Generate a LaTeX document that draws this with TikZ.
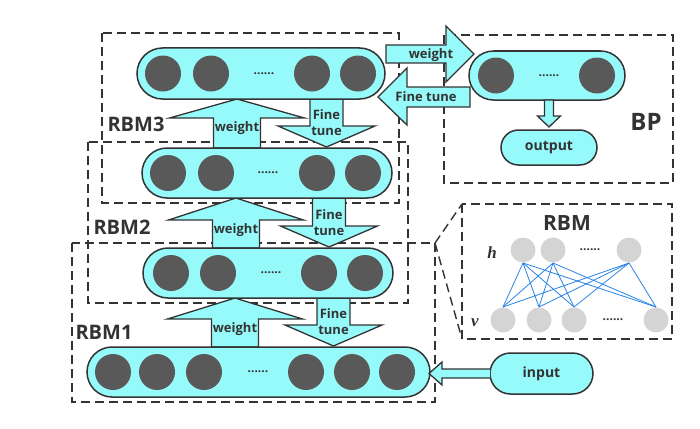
\documentclass[tikz,border=0pt]{standalone}
\usepackage{fontspec}
\setmainfont{Open Sans}
\newfontfamily\hvfont{Liberation Serif}
\usetikzlibrary{shapes.misc}
\definecolor{cyanfill}{RGB}{150,250,250}
\definecolor{darkline}{RGB}{51,51,51}
\definecolor{unitgray}{RGB}{89,89,89}
\definecolor{lightunit}{RGB}{212,212,212}
\definecolor{edgeblue}{RGB}{40,130,230}
% up arrow: x, tip y, head base y, foot y
\newcommand\wup[4]{%
\draw[blk] (#1,#2) -- ({#1+67.5},#3) -- ({#1+23.5},#3) -- ({#1+23.5},#4) -- ({#1-23.5},#4) -- ({#1-23.5},#3) -- ({#1-67.5},#3) -- cycle;
\node[lbl] at (#1,{#3+10}) {weight};}
% down arrow: x, top y, head base y, tip y
\newcommand\fdown[4]{%
\draw[blk] ({#1-16.5},#2) -- ({#1+16.5},#2) -- ({#1+16.5},#3) -- ({#1+48.5},#3) -- (#1,#4) -- ({#1-48.5},#3) -- ({#1-16.5},#3) -- cycle;
\node[lbl,align=center] at (#1,{#3-3.5}) {Fine\\tune};}

\begin{document}
\begin{tikzpicture}[x=1pt,y=-1pt,
  pill/.style={rounded rectangle,draw=darkline,line width=1.5pt,fill=cyanfill,inner sep=0pt},
  blk/.style={draw=darkline,line width=1.3pt,fill=cyanfill,line join=miter},
  lbl/.style={font=\bfseries\fontsize{13}{16.5}\selectfont,text=darkline,inner sep=0pt},
  dots/.style={font=\bfseries\fontsize{12}{12}\selectfont,text=darkline},
  grp/.style={draw=darkline,line width=1.4pt,dash pattern=on 9pt off 5pt},
  tag/.style={font=\bfseries\fontsize{20}{22}\selectfont,text=darkline}]
\useasboundingbox (0,0) rectangle (700,428);

% dashed groups
\draw[grp] (102,33) rectangle (399,203);
\draw[grp] (88,142) rectangle (408,303);
\draw[grp] (72,243) rectangle (435,402);
\draw[grp] (444,35) rectangle (673,183);
\draw[grp] (462,204) rectangle (672,339);
\draw[grp] (435,243) -- (462,204) (435,243) -- (462,339);
\node[tag] at (136,124) {RBM3};
\node[tag] at (122,227) {RBM2};
\node[tag] at (104,332) {RBM1};
\node[tag,font=\bfseries\fontsize{24}{26}\selectfont] at (646,122) {BP};

% arrows between layers
\wup{237}{99}{118}{148}
\fdown{326.5}{99}{126}{147}
\wup{236}{198}{220}{248}
\fdown{329}{198}{226}{247}
\wup{235}{298}{319}{347}
\fdown{333.5}{298}{325}{346}

% layers
\node[pill,minimum width=248pt,minimum height=51pt] (L3) at (261,73.5) {};
\node[pill,minimum width=250pt,minimum height=50pt] (L2) at (267,173) {};
\node[pill,minimum width=250pt,minimum height=50pt] (L1) at (268,273) {};
\node[pill,minimum width=343pt,minimum height=50pt] (L0) at (258.5,372) {};
\node[pill,minimum width=156pt,minimum height=49pt] (bp) at (547,75.5) {};
\node[pill,minimum width=96pt,minimum height=35pt,lbl,font=\bfseries\fontsize{14}{16}\selectfont] (out) at (549,147.5) {output};
\node[pill,minimum width=103pt,minimum height=41pt,lbl,font=\bfseries\fontsize{14}{16}\selectfont] (inp) at (541.5,373.5) {input};
\foreach \x in {163,211,312,358} \fill[unitgray] (\x,73.5) circle (18pt);
\foreach \x in {168,216,317,363} \fill[unitgray] (\x,173) circle (18pt);
\foreach \x in {171,218,319,365} \fill[unitgray] (\x,273) circle (18pt);
\foreach \x in {113,157,204,306,352,397} \fill[unitgray] (\x,372) circle (18pt);
\foreach \x in {496,597} \fill[unitgray] (\x,75.5) circle (18pt);
\node[dots] at (264,73.5) {......};
\node[dots] at (268,173) {......};
\node[dots] at (271,273) {......};
\node[dots] at (258,372) {......};
\node[dots] at (549,75.5) {......};

% layer 3 <-> BP
\draw[blk] (386,45) -- (446,45) -- (446,26) -- (474,54) -- (446,82) -- (446,63) -- (386,63) -- cycle;
\node[lbl] at (431,55) {weight};
\draw[blk] (378,97) -- (407,68) -- (407,87) -- (470,87) -- (470,107) -- (407,107) -- (407,125) -- cycle;
\node[lbl] at (426,97) {Fine tune};
\draw[blk] (544.5,100) -- (553.5,100) -- (553.5,116) -- (560.5,116) -- (549,127) -- (537.5,116) -- (544.5,116) -- cycle;
\draw[blk] (490,369) -- (442,369) -- (442,362) -- (429,373.5) -- (442,385) -- (442,378) -- (490,378);

% RBM inset
\node[tag,font=\bfseries\fontsize{21}{24}\selectfont] at (567,223) {RBM};
\foreach \x [count=\i] in {523,553,629} \fill[lightunit] (\x,250) circle (12.5pt) coordinate (h\i);
\foreach \x [count=\i] in {503,539,574,656} \fill[lightunit] (\x,320) circle (12.5pt) coordinate (v\i);
\foreach \i in {1,2,3} \foreach \j in {1,2,3,4}
  \draw[edgeblue,line width=0.8pt] ([yshift=-13pt]h\i) -- ([yshift=13pt]v\j);
\node[dots] at (590,250) {......};
\node[dots] at (613,320) {......};
\node[font=\hvfont\bfseries\itshape\fontsize{17}{18}\selectfont,text=darkline] at (492,253) {h};
\node[font=\hvfont\bfseries\itshape\fontsize{17}{18}\selectfont,text=darkline] at (475,323) {v};
\end{tikzpicture}
\end{document}
